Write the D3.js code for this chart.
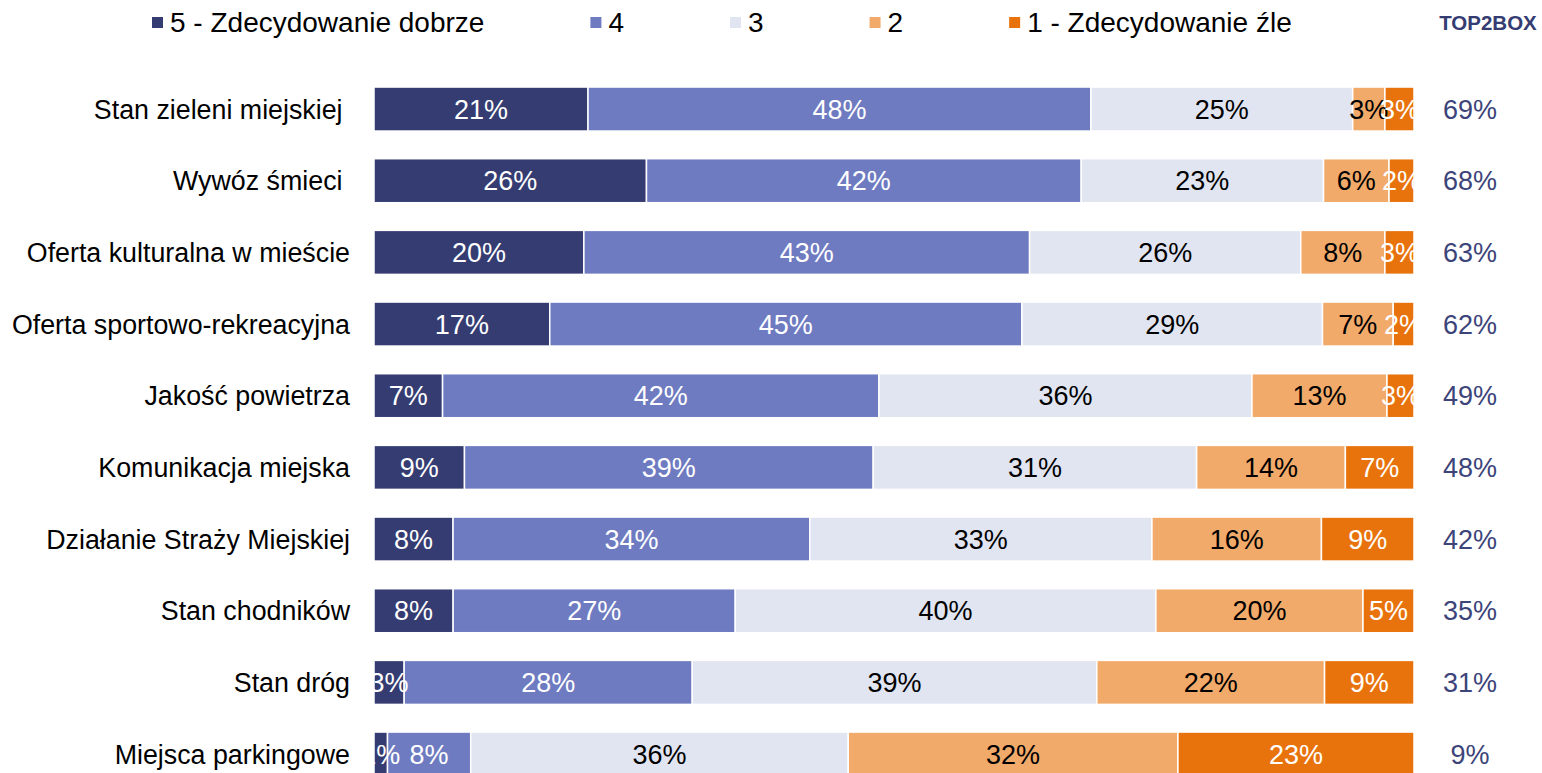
<!DOCTYPE html>
<html>
<head>
<meta charset="utf-8">
<script src="https://cdn.jsdelivr.net/npm/d3@7"></script>
<style>
  body { margin: 0; background: #fff; }
  svg { display: block; font-family: "Liberation Sans", Arial, sans-serif; }
  .cat { white-space: pre; }
</style>
</head>
<body>
<svg id="chart" width="1542" height="773"></svg>
<script>
// categories, top to bottom
const categories = [
  'Stan zieleni miejskiej ',
  'Wywóz śmieci ',
  'Oferta kulturalna w mieście',
  'Oferta sportowo-rekreacyjna',
  'Jakość powietrza',
  'Komunikacja miejska',
  'Działanie Straży Miejskiej',
  'Stan chodników',
  'Stan dróg',
  'Miejsca parkingowe'
];

const seriesNames = ['5 - Zdecydowanie dobrze', '4', '3', '2', '1 - Zdecydowanie źle'];
const seriesColors = ['#343c72', '#6e7bc1', '#e1e5f1', '#f1aa6a', '#e8730c'];
const labelColors = ['#fff', '#fff', '#000', '#000', '#fff'];

// shares in %, per series (same order as categories)
const s5 = [20.6, 26.2, 20.2, 16.9, 6.6, 8.7, 7.6, 7.6, 2.9, 1.3];
const s4 = [48.4, 41.8, 42.9, 45.4, 42.0, 39.3, 34.3, 27.1, 27.7, 8.0];
const s3 = [25.2, 23.3, 26.1, 28.9, 35.9, 31.1, 32.9, 40.4, 38.9, 36.3];
const s2 = [3.1, 6.3, 8.1, 6.8, 13.0, 14.3, 16.3, 19.9, 21.9, 31.7];
const s1 = [2.8, 2.4, 2.8, 2.0, 2.6, 6.6, 8.9, 4.9, 8.6, 22.7];

const seriesValues = [s5, s4, s3, s2, s1];

const svg = d3.select('#chart');
const plotLeft = 374, plotRight = 1414;

const x = d3.scaleLinear().domain([0, 100]).range([plotLeft, plotRight]);
const y = d3.scaleBand()
  .domain(categories)
  .range([73.2, 789.9])
  .paddingInner(0.386)
  .paddingOuter(0.193);

const rows = categories.map((c, i) => {
  let acc = 0;
  const segs = seriesValues.map((vals, k) => {
    const seg = { k, x0: acc, x1: acc + vals[i], v: vals[i] };
    acc += vals[i];
    return seg;
  });
  return { cat: c, segs, total: acc, top2: seriesValues[0][i] + seriesValues[1][i] };
});

// normalise each row to 100%
rows.forEach(r => r.segs.forEach(s => { s.x0 = s.x0 / r.total * 100; s.x1 = s.x1 / r.total * 100; }));

svg.append('defs').append('clipPath').attr('id', 'plotClip')
  .append('rect')
  .attr('x', plotLeft).attr('y', 0)
  .attr('width', plotRight - plotLeft).attr('height', 773);

// Balken
const barG = svg.append('g');
rows.forEach(r => {
  barG.selectAll(null)
    .data(r.segs)
    .enter()
    .append('rect')
    .attr('x', d => x(d.x0))
    .attr('y', y(r.cat))
    .attr('width', d => x(d.x1) - x(d.x0))
    .attr('height', y.bandwidth())
    .attr('fill', d => seriesColors[d.k])
    .attr('stroke', '#fff')
    .attr('stroke-width', 1.5);
});

// Werte in den Balken
const labG = svg.append('g').attr('clip-path', 'url(#plotClip)');
rows.forEach(r => {
  labG.selectAll(null)
    .data(r.segs)
    .enter()
    .append('text')
    .attr('x', d => x((d.x0 + d.x1) / 2))
    .attr('y', y(r.cat) + y.bandwidth() / 2)
    .attr('dy', '0.36em')
    .attr('text-anchor', 'middle')
    .attr('font-size', 27)
    .attr('fill', d => labelColors[d.k])
    .text(d => Math.round(d.v) + '%');
});

// Kategorien
svg.append('g').selectAll('text')
  .data(categories)
  .enter()
  .append('text')
  .attr('class', 'cat')
  .attr('x', 350)
  .attr('y', d => y(d) + y.bandwidth() / 2)
  .attr('dy', '0.36em')
  .attr('text-anchor', 'end')
  .attr('font-size', 26.8)
  .attr('fill', '#000')
  .text(d => d);

// TOP2BOX
svg.append('text')
  .attr('x', 1488).attr('y', 30)
  .attr('text-anchor', 'middle')
  .attr('font-size', 20.5)
  .attr('font-weight', 'bold')
  .attr('fill', '#343c72')
  .text('TOP2BOX');

svg.append('g').selectAll('text')
  .data(rows)
  .enter()
  .append('text')
  .attr('x', 1470)
  .attr('y', d => y(d.cat) + y.bandwidth() / 2)
  .attr('dy', '0.36em')
  .attr('text-anchor', 'middle')
  .attr('font-size', 27)
  .attr('fill', '#3c4479')
  .text(d => Math.round(d.top2) + '%');

// Legende
const legG = svg.append('g');
let lx = 152;
seriesNames.forEach((name, k) => {
  legG.append('rect')
    .attr('x', lx).attr('y', 17)
    .attr('width', 11).attr('height', 11)
    .attr('fill', seriesColors[k]);
  const t = legG.append('text')
    .attr('x', lx + 18).attr('y', 32)
    .attr('font-size', 28)
    .attr('fill', '#000')
    .text(name);
  lx += 18 + t.node().getComputedTextLength() + 106;
});
</script>
</body>
</html>
